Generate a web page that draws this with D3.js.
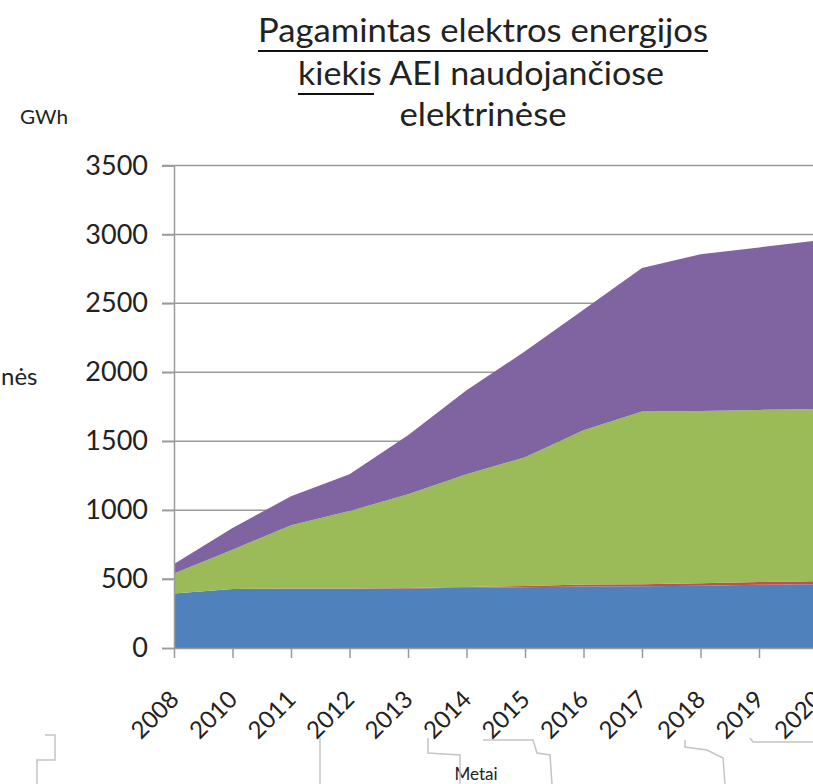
<!DOCTYPE html>
<html>
<head>
<meta charset="utf-8">
<script src="https://cdn.jsdelivr.net/npm/d3@7"></script>
<style>
  html, body { margin: 0; padding: 0; background: #fff; overflow: hidden; }
  text { font-family: Lato, "Open Sans", sans-serif; fill: #222; }
</style>
</head>
<body>
<div id="chart"></div>
<script>
// categories and series (GWh)
const years = ["2008", "2010", "2011", "2012", "2013", "2014", "2015", "2016", "2017", "2018", "2019", "2020"];
const blueSeries   = [395, 428, 430, 430, 432, 437, 440, 446, 448, 452, 458, 463];
const redSeries    = [0, 0, 1, 2, 3, 5, 10, 14, 15, 18, 20, 22];
const greenSeries  = [145, 285, 460, 561, 681, 819, 934, 1120, 1252, 1250, 1249, 1250];
const purpleSeries = [69, 157, 210, 268, 427, 609, 768, 874, 1041, 1137, 1179, 1221];
const yTicks = [0, 500, 1000, 1500, 2000, 2500, 3000, 3500];

const seriesNames = ["blue", "red", "green", "purple"];
const colors = {blue: "#4F81BD", red: "#C0504D", green: "#9BBB59", purple: "#8064A2"};

const W = 813, H = 784;
const svg = d3.select("#chart").append("svg")
    .attr("width", W)
    .attr("height", H);

const x = d3.scalePoint()
    .domain(years)
    .range([174, 174 + 11 * 58.5]);

const y = d3.scaleLinear()
    .domain([0, 3500])
    .range([648, 165.5]);

// gridlines
svg.append("g")
    .selectAll("line")
    .data(yTicks.slice(1))
    .join("line")
    .attr("x1", 162).attr("x2", W)
    .attr("y1", d => y(d)).attr("y2", d => y(d))
    .attr("stroke", "#9a9a9a")
    .attr("stroke-width", 1.5);

// stacked areas
const table = years.map((yr, i) => ({
    year: yr,
    blue: blueSeries[i],
    red: redSeries[i],
    green: greenSeries[i],
    purple: purpleSeries[i]
}));

const stacked = d3.stack().keys(seriesNames)(table);

const area = d3.area()
    .x(d => x(d.data.year))
    .y0(d => y(d[0]))
    .y1(d => y(d[1]));

svg.append("g")
    .selectAll("path")
    .data(stacked)
    .join("path")
    .attr("fill", d => colors[d.key])
    .attr("d", area);

// y axis
const yAxis = svg.append("g")
    .attr("transform", "translate(174,0)")
    .call(d3.axisLeft(y).tickValues(yTicks).tickFormat(d3.format("d")).tickSize(12).tickPadding(14));
yAxis.select(".domain").attr("stroke", "#9a9a9a").attr("stroke-width", 1.5);
yAxis.selectAll(".tick line").attr("stroke", "#9a9a9a").attr("stroke-width", 1.5);
yAxis.selectAll(".tick text")
    .attr("font-size", 27)
    .attr("font-family", "Lato, sans-serif")
    .attr("fill", "#222");

// x axis
const xAxis = svg.append("g")
    .attr("transform", "translate(0,648)")
    .call(d3.axisBottom(x).tickSize(10).tickSizeOuter(0));
xAxis.select(".domain").attr("stroke", "#9a9a9a").attr("stroke-width", 1.5);
xAxis.selectAll(".tick line").attr("stroke", "#9a9a9a").attr("stroke-width", 1.5);
xAxis.selectAll(".tick text")
    .attr("font-size", 24)
    .attr("font-family", "Lato, sans-serif")
    .attr("fill", "#222")
    .attr("text-anchor", "end")
    .attr("x", 0)
    .attr("y", 0)
    .attr("dy", "0.35em")
    .attr("transform", "translate(0,47) rotate(-45)");

// title
const title = svg.append("g").attr("font-size", 33);
title.append("text").attr("x", 483).attr("y", 42).attr("text-anchor", "middle")
    .attr("textLength", 450).attr("lengthAdjust", "spacingAndGlyphs")
    .text("Pagamintas elektros energijos");
title.append("line").attr("x1", 258).attr("x2", 708).attr("y1", 51).attr("y2", 51)
    .attr("stroke", "#111").attr("stroke-width", 2);
title.append("text").attr("x", 481).attr("y", 85).attr("text-anchor", "middle")
    .attr("textLength", 366).attr("lengthAdjust", "spacingAndGlyphs")
    .text("kiekis AEI naudojančiose");
title.append("line").attr("x1", 298).attr("x2", 374).attr("y1", 94).attr("y2", 94)
    .attr("stroke", "#111").attr("stroke-width", 2);
title.append("text").attr("x", 483).attr("y", 126).attr("text-anchor", "middle")
    .attr("textLength", 167).attr("lengthAdjust", "spacingAndGlyphs")
    .text("elektrinėse");

// unit and axis titles
svg.append("text").attr("x", 20).attr("y", 124).attr("font-size", 19)
    .attr("textLength", 48).attr("lengthAdjust", "spacingAndGlyphs").text("GWh");
svg.append("text").attr("x", 1).attr("y", 385).attr("font-size", 24).text("nės");
svg.append("text").attr("x", 476).attr("y", 780).attr("font-size", 17)
    .attr("text-anchor", "middle").text("Metai");

// faint connector shapes from the slide below the chart
const connectors = [
    [[45, 735], [55, 735], [55, 760], [37, 760], [37, 784]],
    [[320, 738], [320, 784]],
    [[428, 738], [428, 753], [460, 755], [460, 784]],
    [[483, 740], [533, 740], [537, 753], [550, 755], [552, 784]],
    [[685, 740], [685, 747], [707, 750], [723, 758], [725, 784]],
    [[750, 738], [753, 742], [813, 742]]
];
svg.append("g")
    .selectAll("path")
    .data(connectors)
    .join("path")
    .attr("d", d3.line())
    .attr("fill", "none")
    .attr("stroke", "#c4c4c4")
    .attr("stroke-width", 1.5);
</script>
</body>
</html>
